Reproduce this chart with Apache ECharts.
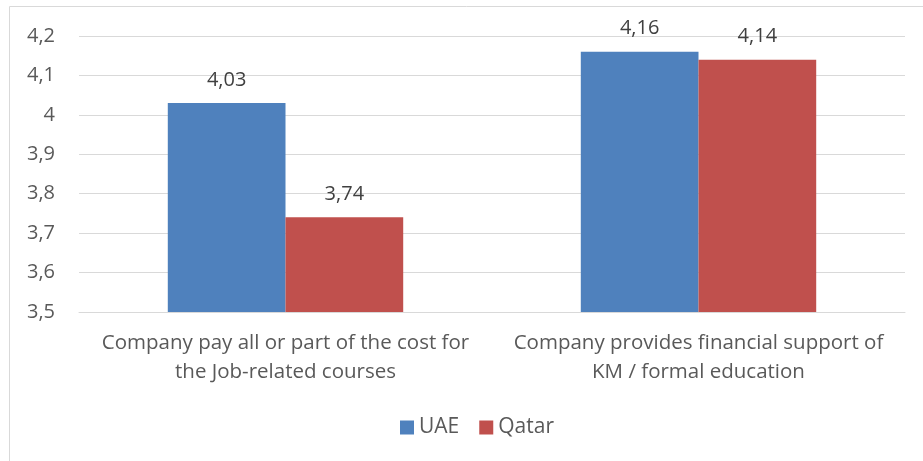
<html>
<head>
<meta http-equiv="Content-Type" content="text/html; charset=utf-8" />
<script src="https://cdn.jsdelivr.net/npm/echarts@6/dist/echarts.min.js"></script>
</head>
<body style="margin:0">
<div id="main" style="width:923px;height:461px;"></div>
<script type="text/javascript">
var categories = ['Company pay all or part of the cost for\nthe Job-related courses',
                  'Company provides financial support of\nKM / formal education'];
var uae = [4.03, 4.16];
var qatar = [3.74, 4.14];

var myChart = echarts.init(document.getElementById('main'));
var font = 'Open Sans';
var grey = '#595959';

function comma(v) {
    return String(Math.round(v * 100) / 100).replace('.', ',');
}

myChart.setOption({
    animation: false,
    textStyle: { fontFamily: font },
    graphic: [{
        type: 'rect',
        shape: { x: 9.5, y: 6.5, width: 930, height: 470 },
        style: { fill: 'none', stroke: '#d9d9d9', lineWidth: 1 }
    }],
    grid: { left: 79, right: 18, top: 36, bottom: 149 },
    legend: {
        bottom: 18,
        left: 395,
        itemWidth: 14,
        itemHeight: 14,
        itemGap: 20,
        icon: 'rect',
        textStyle: { color: grey, fontSize: 21, fontFamily: font }
    },
    xAxis: {
        type: 'category',
        data: categories,
        axisLine: { lineStyle: { color: '#d9d9d9' } },
        axisTick: { show: false },
        axisLabel: { interval: 0, hideOverlap: false, color: grey, fontSize: 20.5, lineHeight: 29, margin: 17, fontFamily: font }
    },
    yAxis: {
        type: 'value',
        min: 3.5,
        max: 4.2,
        interval: 0.1,
        axisLine: { show: false },
        axisTick: { show: false },
        splitLine: { lineStyle: { color: '#d9d9d9' } },
        axisLabel: { color: grey, fontSize: 20, margin: 24, fontFamily: font, formatter: comma }
    },
    series: [{
        name: 'UAE',
        type: 'bar',
        data: uae,
        barGap: '0%',
        barCategoryGap: '43%',
        itemStyle: { color: '#4f81bd' },
        label: { show: true, position: 'top', distance: 13, color: '#404040', fontSize: 20, formatter: function (p) { return comma(p.value); } }
    }, {
        name: 'Qatar',
        type: 'bar',
        data: qatar,
        itemStyle: { color: '#c0504d' },
        label: { show: true, position: 'top', distance: 13, color: '#404040', fontSize: 20, formatter: function (p) { return comma(p.value); } }
    }]
});
</script>
</body>
</html>
